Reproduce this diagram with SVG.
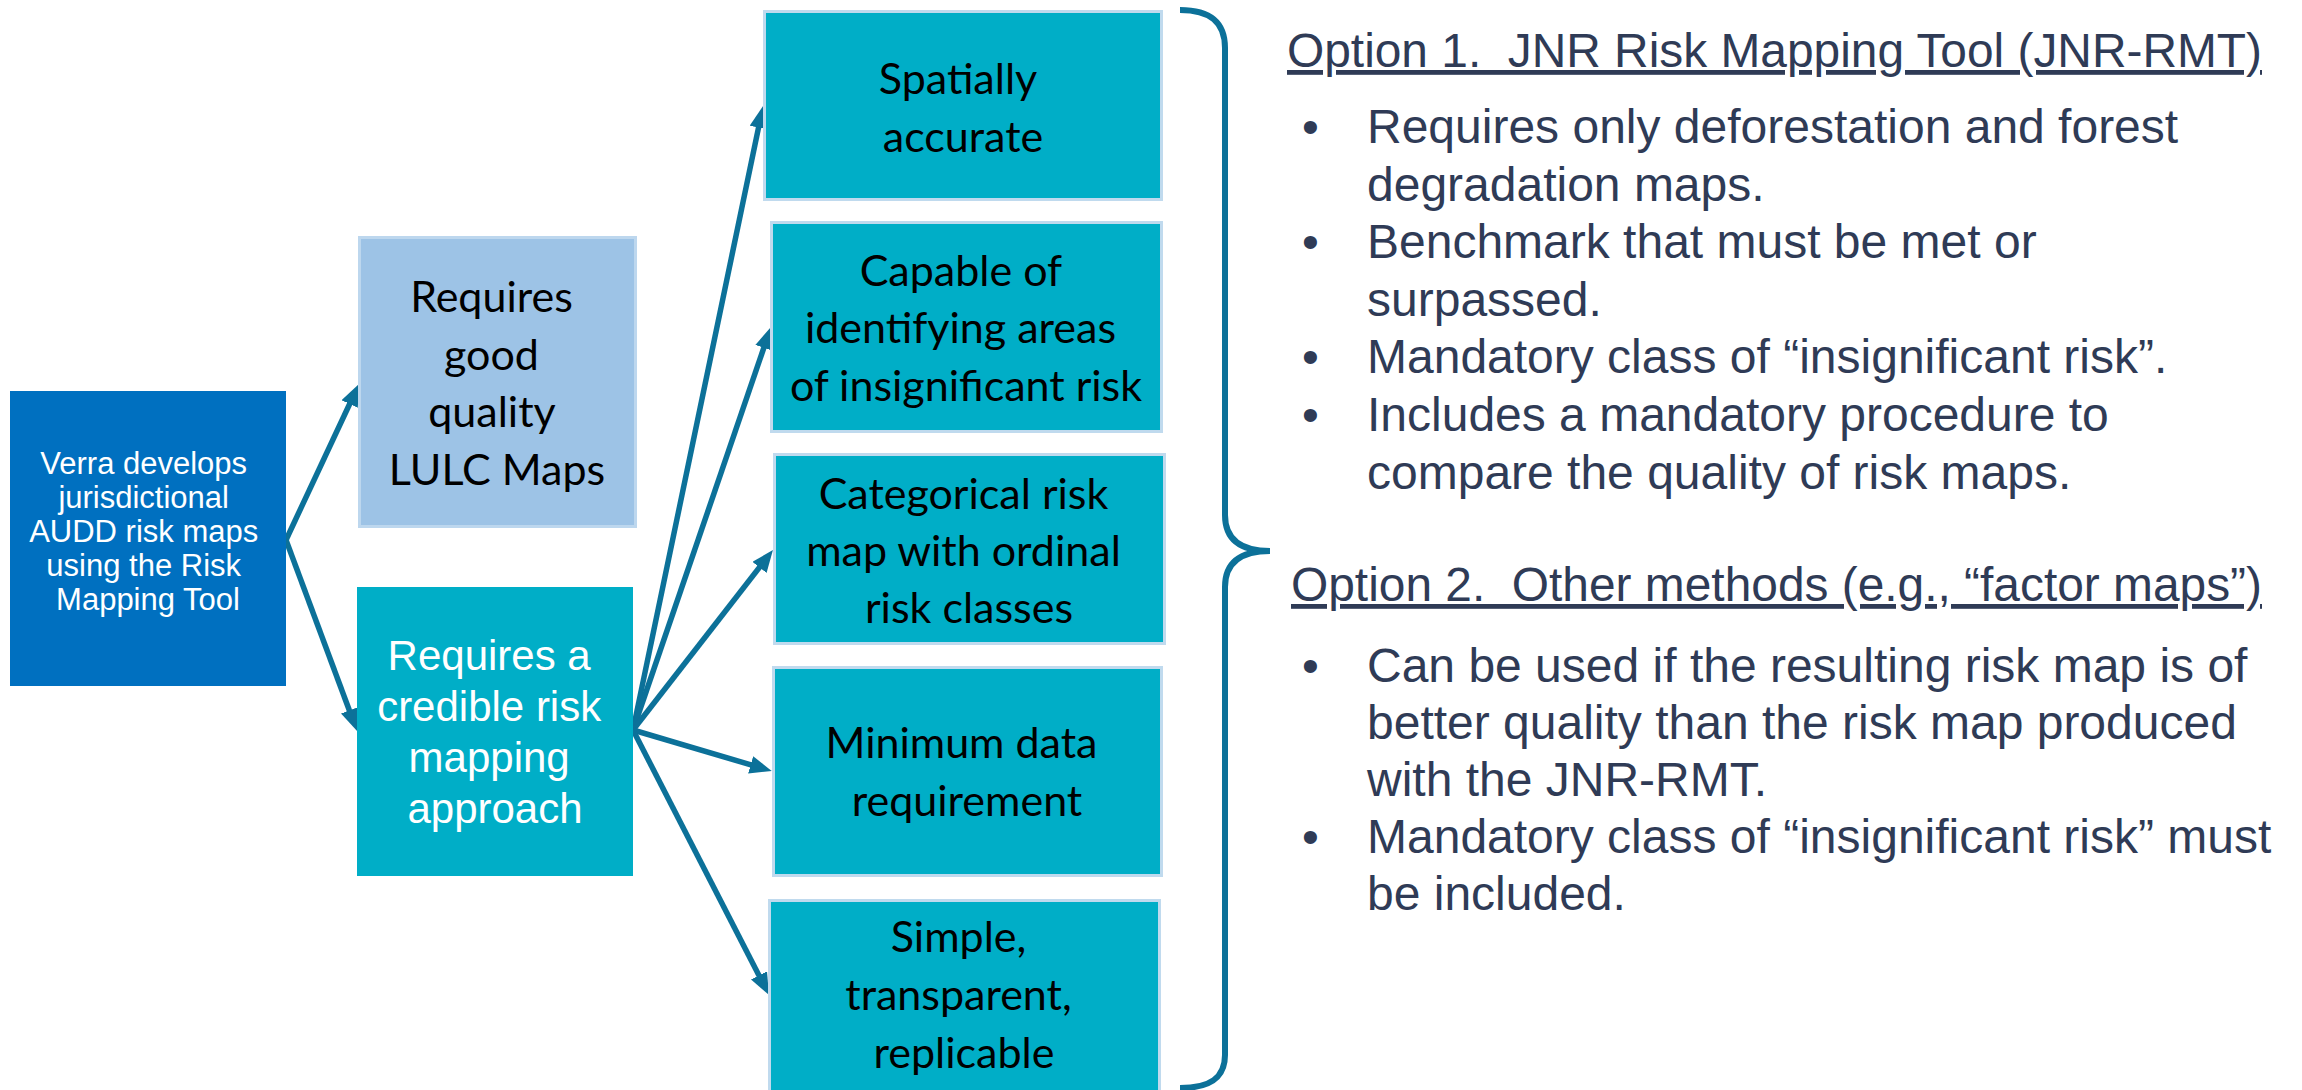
<svg xmlns="http://www.w3.org/2000/svg" width="2302" height="1090" viewBox="0 0 2302 1090">
<style>
.verra{fill:#0070C0}
.lulc{fill:#9DC3E6;stroke:#BDD7EE;stroke-width:3}
.teal{fill:#00AEC7;stroke:#C0DAEE;stroke-width:3}
.teal2{fill:#00AEC7}
.wt{font-family:"Liberation Sans",Arial,sans-serif;fill:#FFFFFF;text-anchor:middle}
.bk{font-family:Lato,"Open Sans",sans-serif;fill:#000000;text-anchor:middle;font-size:43px}
.rt{font-family:"Liberation Sans",Arial,sans-serif;fill:#2F3B56;font-size:48px}
.conn{stroke:#0C7199;stroke-width:5.5;fill:none;marker-end:url(#ah)}
.brace{stroke:#0C7199;stroke-width:6;fill:none}
</style>
<defs>
<marker id="ah" viewBox="0 0 22 18" markerWidth="22" markerHeight="18" refX="11" refY="9" orient="auto" markerUnits="userSpaceOnUse">
<path d="M0,0 L22,9 L0,18 z" fill="#0C7199"/>
</marker>
</defs>
<rect width="2302" height="1090" fill="#FFFFFF"/>

<g id="connectors">
<line class="conn" x1="286" y1="540" x2="354.3" y2="394.0"/>
<line class="conn" x1="286" y1="540" x2="353.2" y2="720.7"/>
<line class="conn" x1="633" y1="730" x2="760.8" y2="116.8"/>
<line class="conn" x1="633" y1="730" x2="767.4" y2="337.4"/>
<line class="conn" x1="633" y1="730" x2="766.2" y2="558.7"/>
<line class="conn" x1="633" y1="730" x2="761.2" y2="767.9"/>
<line class="conn" x1="633" y1="730" x2="764.0" y2="985.2"/>
</g>

<g id="node-verra">
<rect class="verra" x="10" y="391" width="276" height="295"/>
<text class="wt" font-size="31">
<tspan x="148" y="474">Verra develops</tspan>
<tspan x="148" y="508">jurisdictional</tspan>
<tspan x="148" y="542">AUDD risk maps</tspan>
<tspan x="148" y="576">using the Risk</tspan>
<tspan x="148" y="610">Mapping Tool</tspan>
</text>
</g>

<g id="node-lulc">
<rect class="lulc" x="359.5" y="237.5" width="276" height="289"/>
<text class="bk">
<tspan x="497" y="312">Requires</tspan>
<tspan x="497" y="370">good</tspan>
<tspan x="497" y="427">quality</tspan>
<tspan x="497" y="485">LULC Maps</tspan>
</text>
</g>

<g id="node-credible">
<rect class="teal2" x="357" y="587" width="276" height="289"/>
<text class="wt" font-size="42">
<tspan x="495" y="670">Requires a</tspan>
<tspan x="495" y="721">credible risk</tspan>
<tspan x="495" y="772">mapping</tspan>
<tspan x="495" y="823">approach</tspan>
</text>
</g>

<g id="node-spatial">
<rect class="teal" x="764.5" y="11.5" width="397" height="188"/>
<text class="bk">
<tspan x="963" y="94">Spatially</tspan>
<tspan x="963" y="152">accurate</tspan>
</text>
</g>

<g id="node-capable">
<rect class="teal" x="771.5" y="222.5" width="390" height="209"/>
<text class="bk">
<tspan x="966" y="286">Capable of</tspan>
<tspan x="966" y="343">identifying areas</tspan>
<tspan x="966" y="401">of insignificant risk</tspan>
</text>
</g>

<g id="node-categorical">
<rect class="teal" x="774.5" y="454.5" width="390" height="189"/>
<text class="bk">
<tspan x="969" y="509">Categorical risk</tspan>
<tspan x="969" y="566">map with ordinal</tspan>
<tspan x="969" y="623">risk classes</tspan>
</text>
</g>

<g id="node-minimum">
<rect class="teal" x="773.5" y="667.5" width="388" height="208"/>
<text class="bk">
<tspan x="967" y="758">Minimum data</tspan>
<tspan x="967" y="816">requirement</tspan>
</text>
</g>

<g id="node-simple">
<rect class="teal" x="769.5" y="900.5" width="390" height="200"/>
<text class="bk">
<tspan x="964" y="952">Simple,</tspan>
<tspan x="964" y="1010">transparent,</tspan>
<tspan x="964" y="1068">replicable</tspan>
</text>
</g>

<g id="brace">
<path class="brace" d="M1180,10 C1210,10 1225,22 1225,48 L1225,515 Q1225,551 1270,551 Q1225,551 1225,587 L1225,1055 C1225,1078 1210,1088 1180,1088"/>
</g>

<g id="option1">
<text class="rt" x="1287" y="67" text-decoration="underline" textLength="975" lengthAdjust="spacingAndGlyphs" xml:space="preserve">Option 1.  JNR Risk Mapping Tool (JNR-RMT)</text>
<text class="rt">
<tspan x="1302" y="143">•</tspan>
<tspan x="1367" y="143">Requires only deforestation and forest</tspan>
<tspan x="1367" y="200.6">degradation maps.</tspan>
<tspan x="1302" y="258">•</tspan>
<tspan x="1367" y="258">Benchmark that must be met or</tspan>
<tspan x="1367" y="315.8">surpassed.</tspan>
<tspan x="1302" y="373.4">•</tspan>
<tspan x="1367" y="373.4">Mandatory class of “insignificant risk”.</tspan>
<tspan x="1302" y="431">•</tspan>
<tspan x="1367" y="431">Includes a mandatory procedure to</tspan>
<tspan x="1367" y="488.6">compare the quality of risk maps.</tspan>
</text>
</g>

<g id="option2">
<text class="rt" x="1291" y="601" text-decoration="underline" textLength="971" lengthAdjust="spacingAndGlyphs" xml:space="preserve">Option 2.  Other methods (e.g., “factor maps”)</text>
<text class="rt">
<tspan x="1302" y="682">•</tspan>
<tspan x="1367" y="682">Can be used if the resulting risk map is of</tspan>
<tspan x="1367" y="739">better quality than the risk map produced</tspan>
<tspan x="1367" y="796">with the JNR-RMT.</tspan>
<tspan x="1302" y="853">•</tspan>
<tspan x="1367" y="853">Mandatory class of “insignificant risk” must</tspan>
<tspan x="1367" y="910">be included.</tspan>
</text>
</g>
</svg>
